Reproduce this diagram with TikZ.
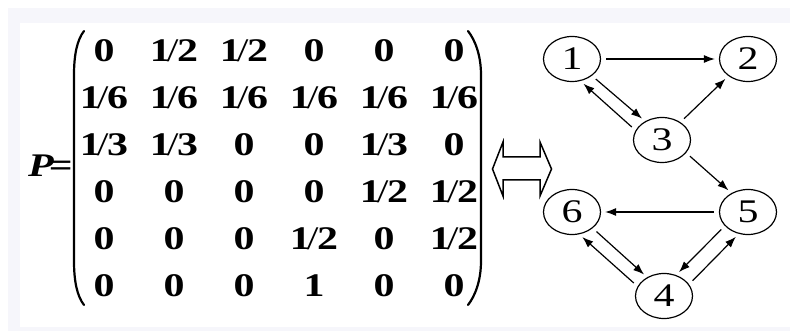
\documentclass[tikz,border=0pt]{standalone}
\usepackage{fontspec}
\setmainfont{Liberation Serif}[FakeStretch=1.27]
\usetikzlibrary{matrix,positioning,shapes.geometric,arrows.meta}
\definecolor{framegray}{RGB}{246,246,251}
\tikzset{>={Latex[length=11pt,width=8pt]}}
\tikzset{big/.style={font=\fontsize{33}{38}\selectfont}}
\tikzset{cell/.style={font=\fontsize{33}{38}\selectfont\bfseries,
    minimum width=70pt, minimum height=47pt, inner sep=0pt,
    text height=22pt, text depth=0pt, anchor=center}}
\tikzset{vertex/.style={ellipse, draw, line width=1.2pt, minimum width=57pt,
    minimum height=45pt, inner sep=0pt, big}}
\tikzset{link/.style={->, line width=1.2pt, shorten <=5pt, shorten >=4pt}}
\tikzset{paren/.style={line width=2.2pt, line cap=round}}
% fraction with a thin slash, as in the matrix
\newcommand{\frc}[2]{\textbf{#1}\kern-.12em{\mdseries/}\kern-.04em\textbf{#2}}

\begin{document}
\begin{tikzpicture}[x=1pt, y=-1pt]
  \fill[framegray] (8,8) rectangle (790,331);
  \fill[white] (20,23) rectangle (790,327);
  \useasboundingbox (0,0) rectangle (790,331);

  % transition matrix
  \matrix (pmat) [matrix of nodes, nodes={cell}, column sep=0pt, row sep=0pt] at (279,167.5) {
    0 & \frc12 & \frc12 & 0 & 0 & 0 \\
    \frc16 & \frc16 & \frc16 & \frc16 & \frc16 & \frc16 \\
    \frc13 & \frc13 & 0 & 0 & \frc13 & 0 \\
    0 & 0 & 0 & 0 & \frc12 & \frc12 \\
    0 & 0 & 0 & \frc12 & 0 & \frc12 \\
    0 & 0 & 0 & 1 & 0 & 0 \\
  };
  \draw[paren] (84,31) .. controls (77,40) and (74,55) .. (74,75) -- (74,261) .. controls (74,281) and (77,296) .. (84,305);
  \draw[paren] (468,31) .. controls (475,40) and (481,55) .. (481,75) -- (481,261) .. controls (481,281) and (475,296) .. (468,305);
  \node[big, anchor=base east, inner sep=0pt] (plabel) at (73,177) {\textbf{\textit{P}}\kern-5pt\textbf{=}};

  % equivalence arrow
  \draw[line width=1.5pt] (492.5,169) -- (503,142) -- (503,157) -- (540,157) -- (540,142) -- (551.5,169)
    -- (540,196) -- (540,180) -- (503,180) -- (503,196) -- cycle;

  % graph
  \node[vertex] (n1) at (572,59) {1};
  \node[vertex] (n2) at (748,59) {2};
  \node[vertex] (n3) at (662,140) {3};
  \node[vertex] (n5) at (748,212) {5};
  \node[vertex] (n6) at (572,212) {6};
  \node[vertex] (n4) at (664,296) {4};

  \draw[link] (n1) -- (n2);
  \draw[link] (n1.-40) -- (n3.132);
  \draw[link] (n3.160) -- (n1.-69);
  \draw[link] (n3.44) -- (n2.221);
  \draw[link] (n3.-28) -- (n5.131);
  \draw[link] (n5) -- (n6);
  \draw[link] (n6.-38) -- (n4.132);
  \draw[link] (n4.160) -- (n6.-72);
  \draw[link] (n5.-149) -- (n4.60);
  \draw[link] (n4.25) -- (n5.-113);
\end{tikzpicture}
\end{document}
